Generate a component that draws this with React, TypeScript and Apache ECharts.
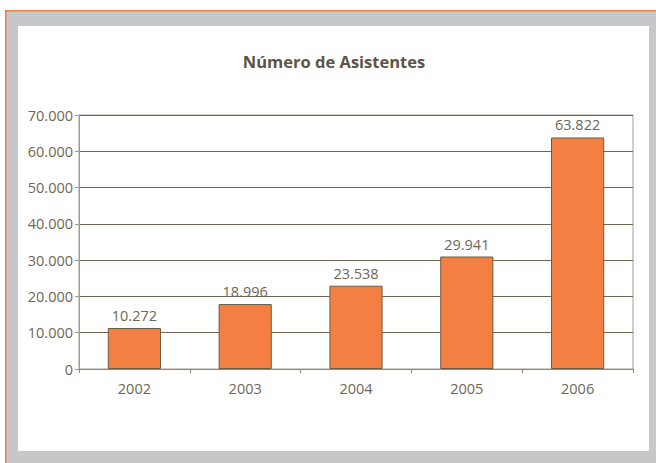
import React, { useEffect, useRef } from "react";
import * as echarts from "echarts";

const categories = ["2002", "2003", "2004", "2005", "2006"];
// bar heights as drawn in the reference
const barValues = [11300, 17900, 22950, 31000, 63800];
// value labels printed above the bars
const labelTexts = ["10.272", "18.996", "23.538", "29.941", "63.822"];
const titleText = "Número de Asistentes";

const FONT = "'Open Sans', 'Noto Sans', sans-serif";
const TEXT = "#6f6656";

function fmt(v: number): string {
  return String(v).replace(/\B(?=(\d{3})+(?!\d))/g, ".");
}

export default function App() {
  const ref = useRef<HTMLDivElement>(null);
  useEffect(() => {
    if (!ref.current) return;
    const chart = echarts.init(ref.current, undefined, { renderer: "svg" });
    chart.setOption({
      animation: false,
      backgroundColor: "#ffffff",
      textStyle: { fontFamily: FONT },
      graphic: [
        { type: "rect", z: -10, shape: { x: 6, y: 11, width: 650, height: 452 }, style: { fill: "#c6c7c9" } },
        { type: "rect", z: -10, shape: { x: 5, y: 10, width: 651, height: 1.5 }, style: { fill: "#f47f43" } },
        { type: "rect", z: -10, shape: { x: 5, y: 10, width: 1.5, height: 453 }, style: { fill: "#f47f43" } },
        { type: "rect", z: -9, shape: { x: 18, y: 26, width: 631, height: 425 }, style: { fill: "#ffffff" } },
        {
          type: "text",
          x: 334,
          y: 61,
          style: {
            text: titleText,
            fill: "#5e5443",
            font: "bold 16.5px " + FONT,
            textAlign: "center",
            textVerticalAlign: "middle",
          },
        },
      ],
      grid: {
        left: 79,
        right: 23,
        top: 115,
        bottom: 94,
        show: true,
        borderColor: "#a29c8f",
        borderWidth: 1,
        backgroundColor: "transparent",
      },
      xAxis: {
        type: "category",
        data: categories,
        axisLine: { lineStyle: { color: "#8f8878", width: 1 } },
        axisTick: { show: true, length: 4, lineStyle: { color: "#8f8878" } },
        axisLabel: { color: TEXT, fontSize: 14.5, margin: 12, fontFamily: FONT },
      },
      yAxis: {
        type: "value",
        min: 0,
        max: 70000,
        interval: 10000,
        axisLine: { show: true, lineStyle: { color: "#a29c8f", width: 1 } },
        axisTick: { show: true, length: 4, lineStyle: { color: "#a29c8f" } },
        axisLabel: { color: TEXT, fontSize: 14.5, margin: 6, fontFamily: FONT, formatter: (v: number) => fmt(v) },
        splitLine: { show: true, lineStyle: { color: "#6e6450", width: 1 } },
      },
      series: [
        {
          type: "bar",
          data: barValues,
          barWidth: "48%",
          itemStyle: { color: "#f47f43", borderColor: "#6e5c40", borderWidth: 1 },
          label: {
            show: true,
            position: "top",
            distance: 5,
            color: TEXT,
            fontSize: 14.5,
            fontFamily: FONT,
            formatter: (p: any) => labelTexts[p.dataIndex],
          },
        },
      ],
    });
    return () => chart.dispose();
  }, []);
  return (
    <div
      ref={ref}
      style={{ position: "fixed", left: 0, top: 0, width: 656, height: 463 }}
    />
  );
}
